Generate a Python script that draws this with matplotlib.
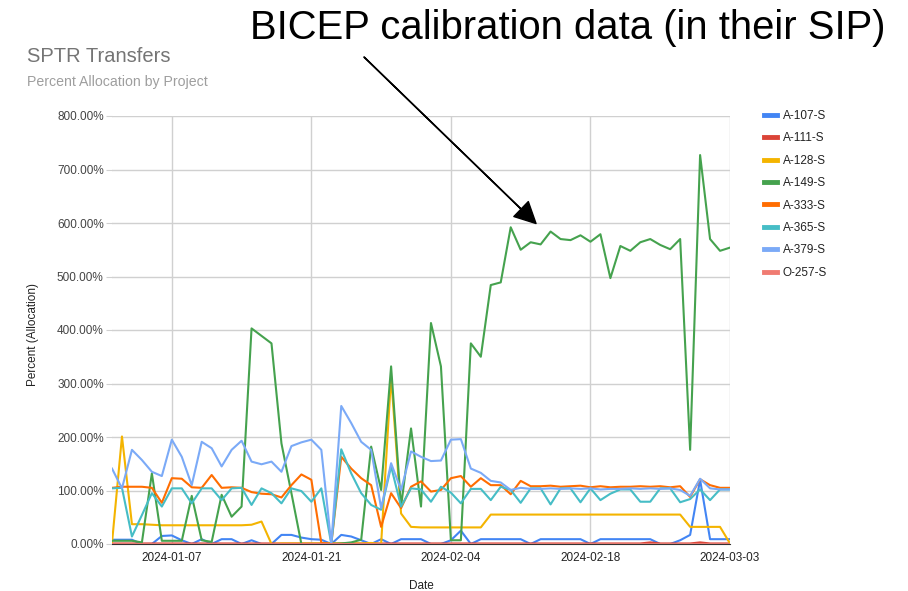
import numpy as np
import matplotlib
matplotlib.use("Agg")
import matplotlib.pyplot as plt
import matplotlib.dates as mdates
from matplotlib.ticker import FuncFormatter

plt.rcParams['font.family'] = ['Liberation Sans', 'DejaVu Sans']

dates = np.arange(np.datetime64('2024-01-01'), np.datetime64('2024-03-04'))

a107 = [8, 8, 8, 0, 0, 15, 16, 7, 0, 9, 0, 9, 9, 0, 7, 0, 0, 17, 17, 12, 9,
        8, 0, 17, 14, 7, 0, 9, 0, 9, 9, 9, 0, 0, 7, 25, 0, 9, 9, 9, 9, 9,
        0, 9, 9, 9, 9, 9, 0, 9, 9, 9, 9, 9, 9, 0, 0, 7, 17, 120, 9, 9, 9]
a111 = [1, 1, 1, 1, 1, 1, 1, 1, 1, 1, 1, 1, 1, 1, 1, 1, 1, 1, 1, 1, 1,
        1, 1, 1, 1, 1, 1, 1, 1, 1, 1, 1, 1, 1, 1, 1, 1, 1, 1, 1, 1, 1,
        1, 1, 1, 1, 1, 1, 1, 1, 1, 1, 1, 1, 3, 1, 1, 1, 1, 3, 1, 1, 1]
a128 = [2, 201, 37, 37, 36, 35, 35, 35, 35, 35, 35, 35, 35, 35, 36, 42, 0, 1, 1, 1, 1,
        1, 1, 1, 1, 1, 2, 0, 313, 57, 32, 31, 31, 31, 31, 31, 31, 31, 55, 55, 55, 55,
        55, 55, 55, 55, 55, 55, 55, 55, 55, 55, 55, 55, 55, 55, 55, 55, 32, 32, 32, 32, 1]
a149 = [6, 6, 6, 3, 132, 6, 6, 6, 90, 7, 4, 92, 51, 70, 403, 389, 375, 188, 95, 0, 0,
        0, 0, 1, 3, 8, 182, 101, 332, 70, 216, 70, 413, 332, 7, 7, 375, 350, 484, 489, 592, 550,
        564, 560, 584, 570, 568, 577, 565, 579, 497, 557, 548, 564, 570, 559, 551, 570, 176, 727, 570, 548, 554]
a333 = [105, 107, 107, 107, 105, 77, 123, 122, 106, 105, 129, 105, 106, 105, 97, 94, 93, 87, 110, 130, 120,
        2, 0, 163, 141, 123, 110, 32, 95, 67, 107, 117, 98, 101, 123, 127, 107, 123, 110, 110, 93, 118,
        108, 108, 109, 107, 108, 109, 106, 108, 106, 107, 107, 108, 107, 108, 106, 108, 88, 121, 110, 105, 105]
a365 = [104, 105, 14, 54, 95, 70, 104, 104, 76, 104, 104, 82, 104, 105, 73, 104, 95, 76, 104, 99, 79,
        104, 0, 177, 132, 95, 73, 64, 145, 70, 104, 102, 79, 107, 96, 76, 103, 103, 82, 107, 101, 77,
        104, 104, 74, 104, 104, 78, 104, 82, 94, 102, 102, 79, 79, 104, 104, 78, 84, 102, 82, 102, 102]
a379 = [141, 104, 176, 157, 135, 127, 195, 163, 110, 191, 179, 145, 176, 193, 154, 149, 154, 135, 183, 190, 195,
        176, 0, 258, 226, 191, 176, 67, 151, 101, 173, 163, 155, 156, 195, 196, 141, 133, 118, 115, 101, 105,
        103, 103, 104, 103, 104, 103, 104, 102, 103, 103, 104, 103, 104, 103, 104, 101, 90, 122, 104, 102, 102]
o257 = [0] * 63

series = [
    ("A-107-S", a107, "#4285F4"),
    ("A-111-S", a111, "#DB4437"),
    ("A-128-S", a128, "#F4B400"),
    ("A-149-S", a149, "#45A24E"),
    ("A-333-S", a333, "#FF6D01"),
    ("A-365-S", a365, "#46BDC6"),
    ("A-379-S", a379, "#7BAAF7"),
    ("O-257-S", o257, "#F07B72"),
]

W, H = 908, 591
fig = plt.figure(figsize=(W / 100, H / 100), dpi=100)
ax = fig.add_axes([112 / W, 1 - 544 / H, (730 - 112) / W, (544 - 116) / H])

for name, vals, col in series:
    ax.plot(dates, vals, color=col, lw=1.5, label=name)

ax.set_xlim(dates[0], dates[-1])
ax.set_ylim(0, 800)
ax.set_yticks(np.arange(0, 801, 100))
ax.yaxis.set_major_formatter(FuncFormatter(lambda v, p: f"{v:.2f}%"))
ax.set_xticks([np.datetime64(d) for d in ['2024-01-07', '2024-01-21', '2024-02-04', '2024-02-18', '2024-03-03']])
ax.xaxis.set_major_formatter(mdates.DateFormatter('%Y-%m-%d'))

# light grid like the sheets chart
ax.grid(True, color='#d0d0d0', lw=1)
ax.set_axisbelow(True)
for s in ['top', 'right', 'left']:
    ax.spines[s].set_visible(False)
ax.spines['bottom'].set_color('#333333')
ax.tick_params(axis='y', length=4, color='#d0d0d0', labelsize=8.5, labelcolor='#444444', pad=2)
ax.tick_params(axis='x', length=0, labelsize=8.5, labelcolor='#222222', pad=6)

fig.text(27 / W, 1 - 57 / H, "SPTR Transfers", fontsize=14.5, color='#757575', va='center')
fig.text(27 / W, 1 - 82 / H, "Percent Allocation by Project", fontsize=10.2, color='#9e9e9e', va='center')
fig.text(421 / W, 1 - 586 / H, "Date", fontsize=8.5, color='#222222', ha='center', va='center')
fig.text(33 / W, 1 - 335 / H, "Percent (Allocation)", fontsize=8.5, color='#222222',
         ha='center', va='center', rotation=90)

fig.text(250 / W, 1 - 28 / H, "BICEP calibration data (in their SIP)", fontsize=28.8,
         color='black', ha='left', va='center')
ax.annotate('', xy=(np.datetime64('2024-02-12T13:00'), 599), xycoords='data',
            xytext=(364 / W, 1 - 57 / H), textcoords='figure fraction',
            arrowprops=dict(facecolor='black', edgecolor='black', width=0.3,
                            headwidth=15, headlength=15, shrink=0))

leg = fig.legend(loc='upper left', bbox_to_anchor=(764 / W, 1 - 110 / H), frameon=False,
                 fontsize=8.5, handlelength=1.1, handletextpad=0.5, labelspacing=0.88,
                 borderpad=0, borderaxespad=0)
for h in leg.get_lines():
    h.set_linewidth(3.5)
for t in leg.get_texts():
    t.set_color('#222222')

fig.savefig('out.png', dpi=100)
